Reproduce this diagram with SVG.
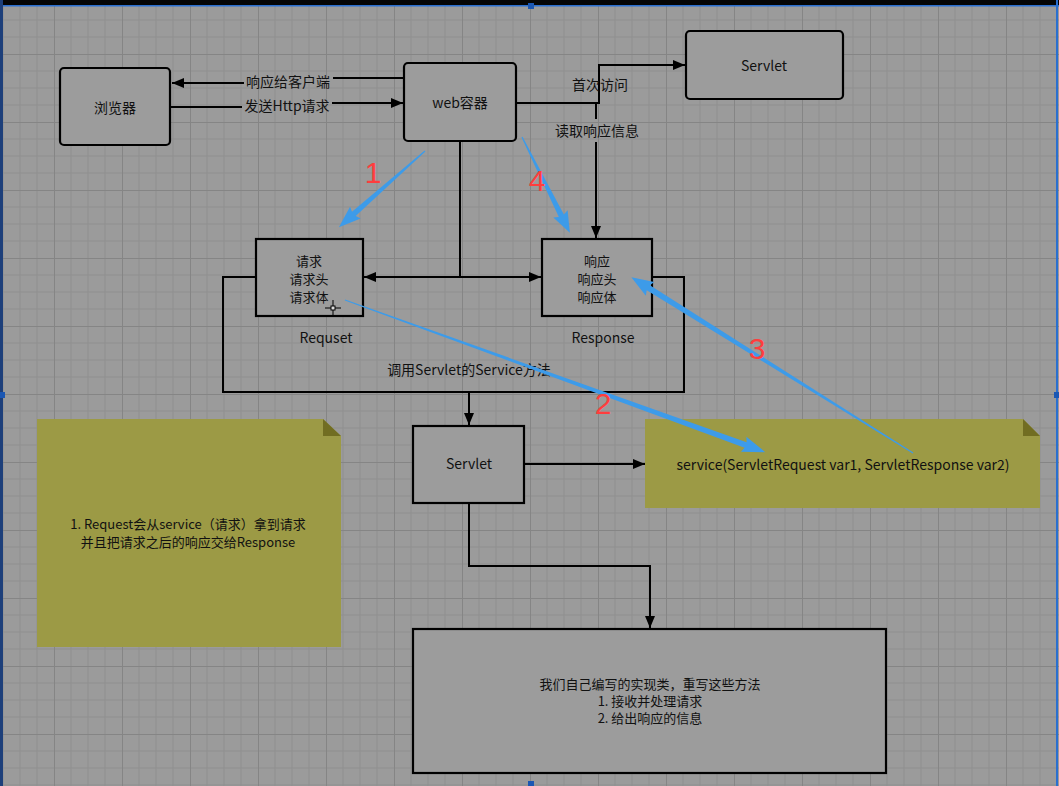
<svg xmlns="http://www.w3.org/2000/svg" width="1059" height="786" viewBox="0 0 1059 786">
<defs>
<pattern id="grid" x="-14" y="-14" width="68" height="68" patternUnits="userSpaceOnUse">
<path d="M17,0V68M34,0V68M51,0V68M0,17H68M0,34H68M0,51H68" stroke="#8f8f8f" stroke-width="1" fill="none"/>
<path d="M0.5,0V68M0,0.5H68" stroke="#858585" stroke-width="1" fill="none"/>
</pattern>
<marker id="ah" viewBox="0 0 12 10" refX="12" refY="5" markerWidth="12" markerHeight="10" orient="auto" markerUnits="userSpaceOnUse">
<path d="M0,0L12,5L0,10z" fill="#000"/>
</marker>
<style>
text{font-family:"Noto Sans CJK SC","Liberation Sans",sans-serif;font-size:14px;fill:#111;text-anchor:middle}
.ml{font-size:13px}
.box{fill:#9c9c9c;stroke:#000;stroke-width:2.2}
.ln{fill:none;stroke:#000;stroke-width:2}
.note{fill:#9c9a45}
.fold{fill:#716d22}
.num{font-family:"Liberation Sans",sans-serif;font-size:30px;fill:#ff3d3d}
.blue{fill:#3d9be9}
.hdl{fill:#1b57b3}
</style>
</defs>
<rect width="1059" height="786" fill="#9b9b9b"/>
<rect width="1059" height="786" fill="url(#grid)"/>
<!-- frame -->
<rect x="0" y="0" width="1059" height="5" fill="#050505"/>
<rect x="0" y="5" width="1059" height="1.5" fill="#2a6fd0"/>
<rect x="0" y="0" width="3" height="786" fill="#1d3f7a"/>
<rect x="1056" y="0" width="2" height="786" fill="#2a6fd0"/>
<rect class="hdl" x="528" y="3" width="6" height="6"/>
<rect class="hdl" x="0" y="392" width="5" height="6"/>
<rect class="hdl" x="1054" y="392" width="5" height="6"/>
<rect class="hdl" x="528" y="781" width="6" height="5"/>

<g id="connectors">
<path class="ln" d="M404,78H333"/>
<path class="ln" d="M244,83H172" marker-end="url(#ah)"/>
<path class="ln" d="M171,107H242"/>
<path class="ln" d="M332,103H403" marker-end="url(#ah)"/>
<path class="ln" d="M516,103H599V65H685" marker-end="url(#ah)"/>
<path class="ln" d="M596,103V119"/>
<path class="ln" d="M596,142V238" marker-end="url(#ah)"/>
<path class="ln" d="M460,141V277"/>
<path class="ln" d="M460,277H364" marker-end="url(#ah)"/>
<path class="ln" d="M460,277H541" marker-end="url(#ah)"/>
<rect class="ln" x="223" y="277" width="461" height="115"/>
<path class="ln" d="M469,392V425" marker-end="url(#ah)"/>
<path class="ln" d="M524,464H645" marker-end="url(#ah)"/>
<path class="ln" d="M469,503V566H650V628" marker-end="url(#ah)"/>
</g>

<g id="browser">
<rect class="box" x="60" y="68" width="110" height="77" rx="4"/>
<text x="115" y="113">浏览器</text>
</g>
<g id="web-container">
<rect class="box" x="404" y="63" width="112" height="78" rx="4"/>
<text x="460" y="108">web容器</text>
</g>
<g id="servlet-top">
<rect class="box" x="686" y="31" width="157" height="68" rx="4"/>
<text x="764" y="71">Servlet</text>
</g>
<g id="request">
<rect class="box" x="256" y="239" width="107" height="77"/>
<text class="ml" x="309" y="266">请求</text>
<text class="ml" x="309" y="284">请求头</text>
<text class="ml" x="309" y="302">请求体</text>
<text x="326" y="343">Requset</text>
</g>
<g id="response">
<rect class="box" x="542" y="239" width="110" height="77"/>
<text class="ml" x="597" y="266">响应</text>
<text class="ml" x="597" y="284">响应头</text>
<text class="ml" x="597" y="302">响应体</text>
<text x="603" y="343">Response</text>
</g>
<g id="servlet-mid">
<rect class="box" x="413" y="426" width="111" height="77"/>
<text x="469" y="469">Servlet</text>
</g>
<g id="impl">
<rect class="box" x="413" y="629" width="473" height="144"/>
<text class="ml" x="650" y="689">我们自己编写的实现类，重写这些方法</text>
<text class="ml" x="650" y="706">1. 接收并处理请求</text>
<text class="ml" x="650" y="723">2. 给出响应的信息</text>
</g>
<g id="note-left">
<path class="note" d="M37,419H323L341,436V647H37z"/>
<path class="fold" d="M323,419L341,436H323z"/>
<text class="ml" x="188" y="529">1. Request会从service（请求）拿到请求</text>
<text class="ml" x="188" y="547">并且把请求之后的响应交给Response</text>
</g>
<g id="note-right">
<path class="note" d="M645,419H1023L1040,436V508H645z"/>
<path class="fold" d="M1023,419L1040,436H1023z"/>
<text x="843" y="470">service(ServletRequest var1, ServletResponse var2)</text>
</g>

<g id="labels">
<text x="288" y="87">响应给客户端</text>
<text x="287" y="111">发送Http请求</text>
<text x="600" y="90">首次访问</text>
<text x="597" y="136">读取响应信息</text>
<text x="469" y="375">调用Servlet的Service方法</text>
</g>

<g id="annotations">
<g transform="translate(425,151) rotate(138.5)"><polygon class="blue" points="0,-0.6 95,-2.8 93,-8 115,0 93,8 95,2.8 0,0.6"/></g>
<g transform="translate(522,137) rotate(63.43)"><polygon class="blue" points="0,-0.6 88,-2.8 86,-8 107,0 86,8 88,2.8 0,0.6"/></g>
<g transform="translate(913,453) rotate(-148.03)"><polygon class="blue" points="0,-0.5 312,-3 310,-8 332,0 310,8 312,3 0,0.5"/></g>
<g transform="translate(345,300) rotate(19.9)"><polygon class="blue" points="0,-0.5 426,-3 424,-8 447,0 424,8 426,3 0,0.5"/></g>
<text class="num" x="373" y="183">1</text>
<text class="num" x="603" y="414">2</text>
<text class="num" x="757" y="359">3</text>
<text class="num" x="537" y="191">4</text>
</g>
<g id="cursor" stroke="#000" stroke-width="1">
<path d="M325,308H341M333,300V316" fill="none"/>
<rect x="331" y="306" width="4" height="4" fill="#ddd"/>
</g>
</svg>
